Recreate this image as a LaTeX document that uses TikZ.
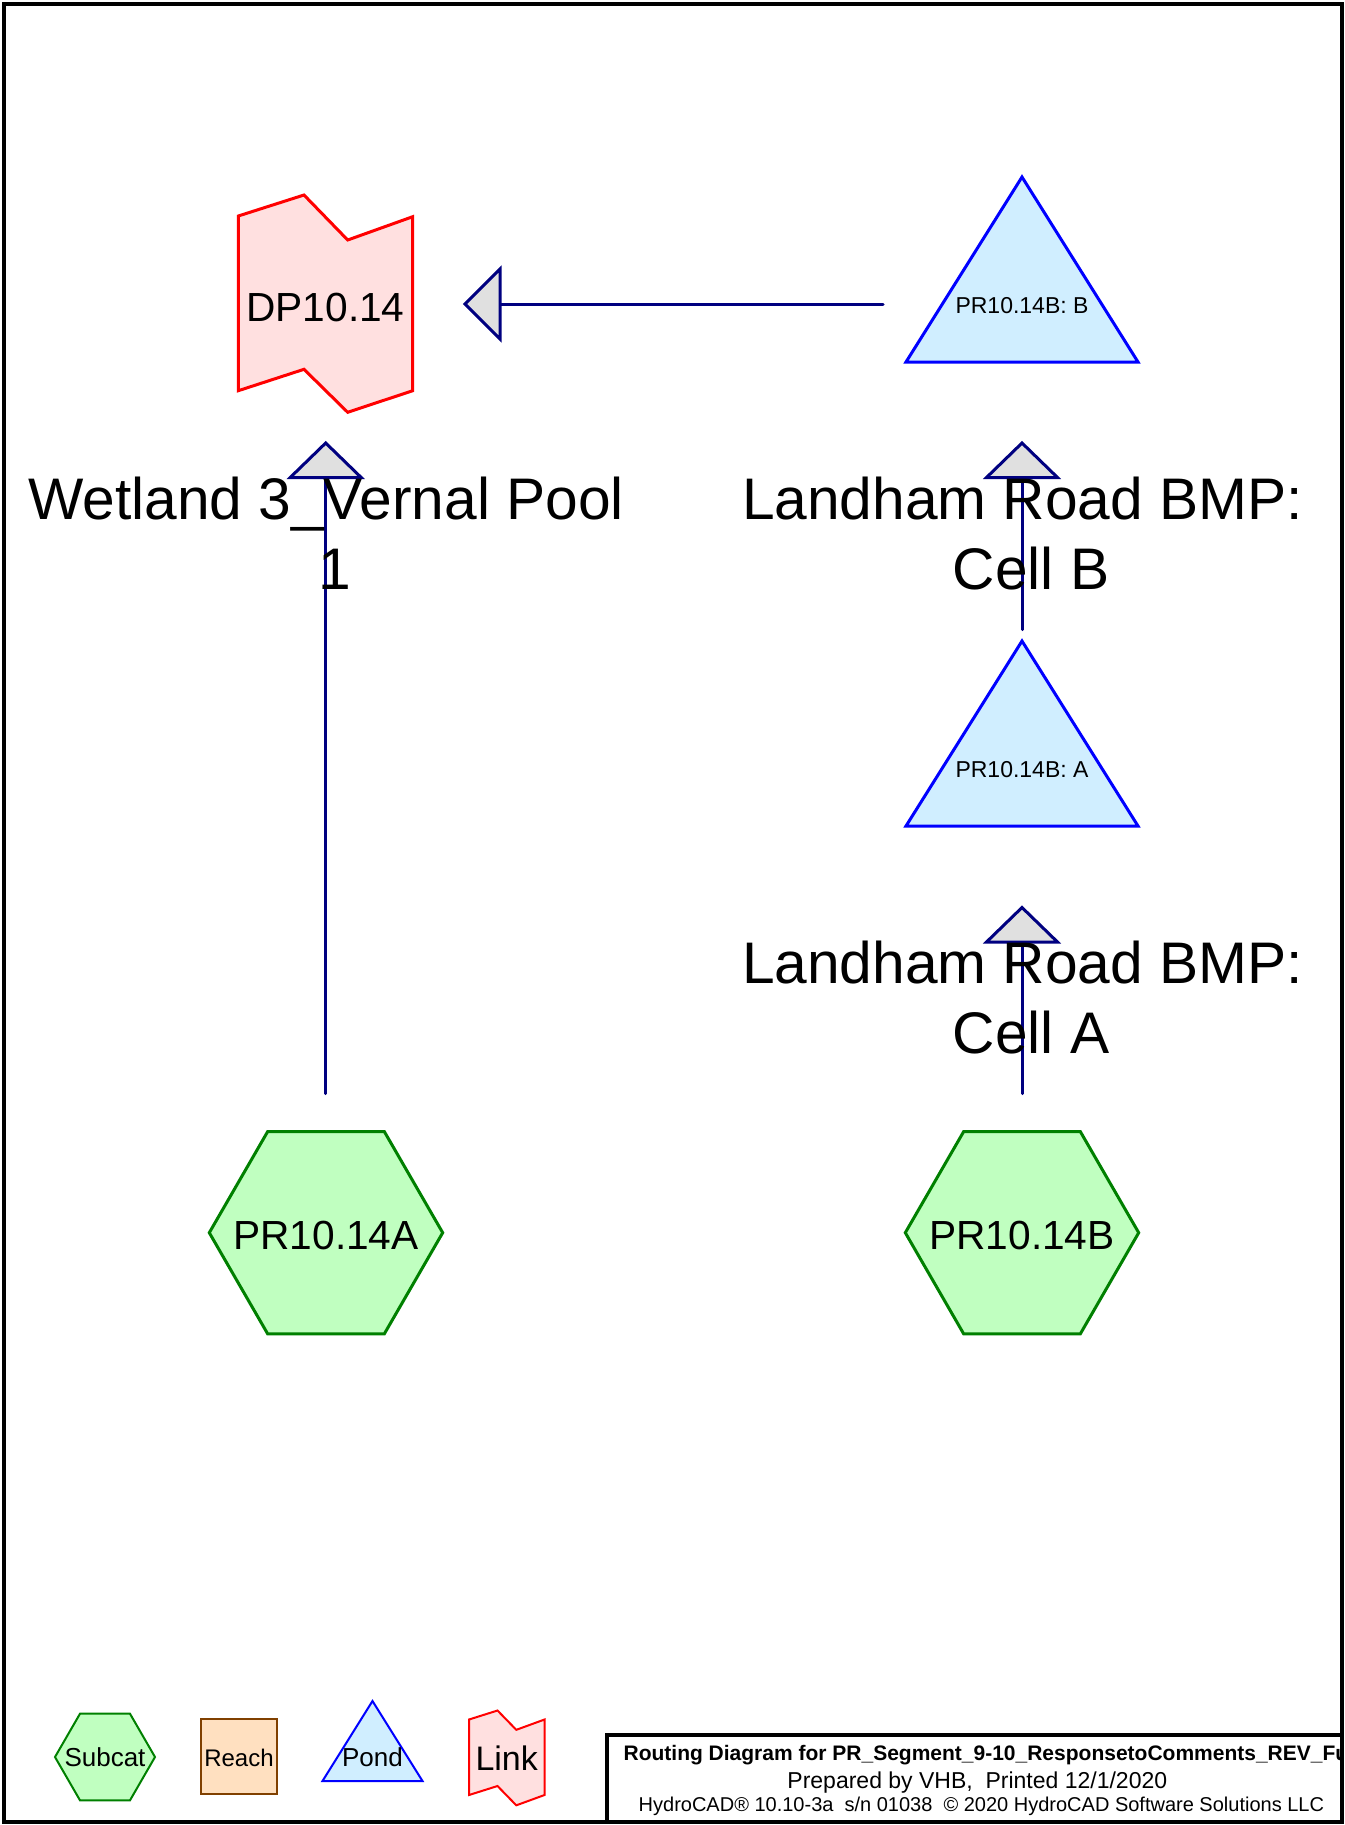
\documentclass[tikz,border=0pt]{standalone}
\usepackage{fontspec}
\setmainfont{Liberation Sans}
\definecolor{navyc}{RGB}{0,0,128}
\definecolor{arrowgray}{RGB}{224,224,224}
\definecolor{subfill}{RGB}{192,255,192}
\definecolor{subline}{RGB}{0,128,0}
\definecolor{pondfill}{RGB}{208,238,255}
\definecolor{pondline}{RGB}{0,0,255}
\definecolor{linkfill}{RGB}{255,224,224}
\definecolor{linkline}{RGB}{255,0,0}
\definecolor{reachfill}{RGB}{255,224,192}
\definecolor{reachline}{RGB}{128,64,0}
\begin{document}
\begin{tikzpicture}[x=0.75pt,y=-0.75pt,
  every node/.style={inner sep=0pt,outer sep=0pt},
  subcatshape/.style={draw=subline,fill=subfill,line width=2.25pt,line join=miter},
  pondshape/.style={draw=pondline,fill=pondfill,line width=2.25pt,line join=miter},
  linkshape/.style={draw=linkline,fill=linkfill,line width=2.25pt,line join=miter},
  reachshape/.style={draw=reachline,fill=reachfill,line width=1.5pt},
  thinshape/.style={line width=1.5pt},
  arrowline/.style={draw=navyc,line width=2.25pt,line cap=round},
  arrowhd/.style={draw=navyc,fill=arrowgray,line width=2.25pt,line join=miter},
  biglabel/.style={anchor=base,font=\fontsize{44pt}{50pt}\selectfont},
  idlabel/.style={anchor=base,font=\fontsize{30.5pt}{34pt}\selectfont},
  pondlabel/.style={anchor=base,font=\fontsize{17.25pt}{20pt}\selectfont},
  leglabel/.style={anchor=base,font=\fontsize{19.5pt}{22pt}\selectfont}
]
\useasboundingbox (0,0) rectangle (1345,1825);
\fill[white] (0,0) rectangle (1345,1825);

% ---- Link DP10.14
\draw[linkshape] (238.3,216)--(304,195)--(347.7,240)--(412.7,216.7)--(412.7,390.7)--(347.7,412.3)--(304,369.3)--(238.3,390.7)--cycle;
\node[idlabel] (dp) at (325.5,321.7) {DP10.14};

% ---- Pond B
\draw[pondshape] (1022,177)--(1138,362)--(906,362)--cycle;
\node[pondlabel] (pondB) at (1022,313.7) {PR10.14B: B};

% ---- Pond A
\draw[pondshape] (1022,641)--(1138,826)--(906,826)--cycle;
\node[pondlabel] (pondA) at (1022,777.7) {PR10.14B: A};

% ---- Subcats
\draw[subcatshape] (209.3,1232.7)--(267.65,1131.6)--(384.35,1131.6)--(442.7,1232.7)--(384.35,1333.8)--(267.65,1333.8)--cycle;
\node[idlabel] (subA) at (326,1249) {PR10.14A};
\draw[subcatshape] (905.3,1232.7)--(963.65,1131.6)--(1080.35,1131.6)--(1138.7,1232.7)--(1080.35,1333.8)--(963.65,1333.8)--cycle;
\node[idlabel] (subB) at (1022,1249) {PR10.14B};

% ---- connector coordinates
\coordinate (bOut) at (883,304);
\coordinate (dpIn) at (500,304);
\coordinate (dpTip) at (465,304);
\coordinate (aOut) at (1022,629.5);
\coordinate (bIn) at (1022,477.5);
\coordinate (bTip) at (1022,443);
\coordinate (saOut) at (325.7,1093.5);
\coordinate (dpIn2) at (325.7,477.5);
\coordinate (dpTip2) at (325.7,443);
\coordinate (sbOut) at (1022,1093.5);
\coordinate (aIn) at (1022,942.5);
\coordinate (aTip) at (1022,907.5);

% ---- connectors
\draw[arrowline] (bOut) -- (dpIn);
\draw[arrowhd] (dpTip) -- ++(35,-35) -- ++(0,70) -- cycle;
\draw[arrowline] (saOut) -- (dpIn2);
\draw[arrowhd] (dpTip2) -- ++(35.5,34.5) -- ++(-71,0) -- cycle;
\draw[arrowline] (aOut) -- (bIn);
\draw[arrowhd] (bTip) -- ++(35.5,34.5) -- ++(-71,0) -- cycle;
\draw[arrowline] (sbOut) -- (aIn);
\draw[arrowhd] (aTip) -- ++(35.5,34.5) -- ++(-71,0) -- cycle;

% ---- big labels
\node[biglabel] (dpname1) at (326,519) {Wetland 3\_Vernal Pool};
\node[biglabel] (dpname2) at (335,589) {1};
\node[biglabel] (bname1) at (1022.5,519) {Landham Road BMP:};
\node[biglabel] (bname2) at (1031,589) {Cell B};
\node[biglabel] (aname1) at (1022.5,983.3) {Landham Road BMP:};
\node[biglabel] (aname2) at (1031,1053.3) {Cell A};

% ---- legend
\draw[subcatshape,thinshape] (55,1757)--(80,1713.7)--(130,1713.7)--(155,1757)--(130,1800.3)--(80,1800.3)--cycle;
\node[leglabel] (lgsub) at (105,1766) {Subcat};
\draw[reachshape] (201,1718.5) rectangle (277,1794);
\node[anchor=base,font=\fontsize{18pt}{20pt}\selectfont] (lgreach) at (239,1766) {Reach};
\draw[pondshape,thinshape] (372.5,1701)--(422.5,1781)--(322.5,1781)--cycle;
\node[leglabel] (lgpond) at (372.5,1766) {Pond};
\draw[linkshape,thinshape] (469,1719.5)--(497.5,1710.5)--(516.3,1729.8)--(544.5,1719.5)--(544.5,1795)--(516.3,1805.3)--(497.5,1786)--(469,1795)--cycle;
\node[anchor=base,font=\fontsize{25.5pt}{28pt}\selectfont] (lglink) at (506.7,1770) {Link};

% ---- title block
\begin{scope}
\clip (607,1735) rectangle (1340,1822);
\node[anchor=base west,font=\bfseries\fontsize{15.75pt}{18pt}\selectfont] (t1) at (623.6,1760) {Routing Diagram for PR\_Segment\_9-10\_ResponsetoComments\_REV\_Fu};
\end{scope}
\node[anchor=base,font=\fontsize{17.25pt}{20pt}\selectfont] (t2) at (977.3,1788) {Prepared by VHB,\ \ Printed 12/1/2020};
\node[anchor=base,font=\fontsize{15pt}{17pt}\selectfont] (t3) at (981.4,1811) {HydroCAD® 10.10-3a\ \ s/n 01038\ \ © 2020 HydroCAD Software Solutions LLC};
\draw[line width=3pt] (607,1822) -- (607,1735) -- (1342,1735);

% ---- frame
\draw[line width=3pt] (4,4) rectangle (1342,1822);
\end{tikzpicture}
\end{document}
